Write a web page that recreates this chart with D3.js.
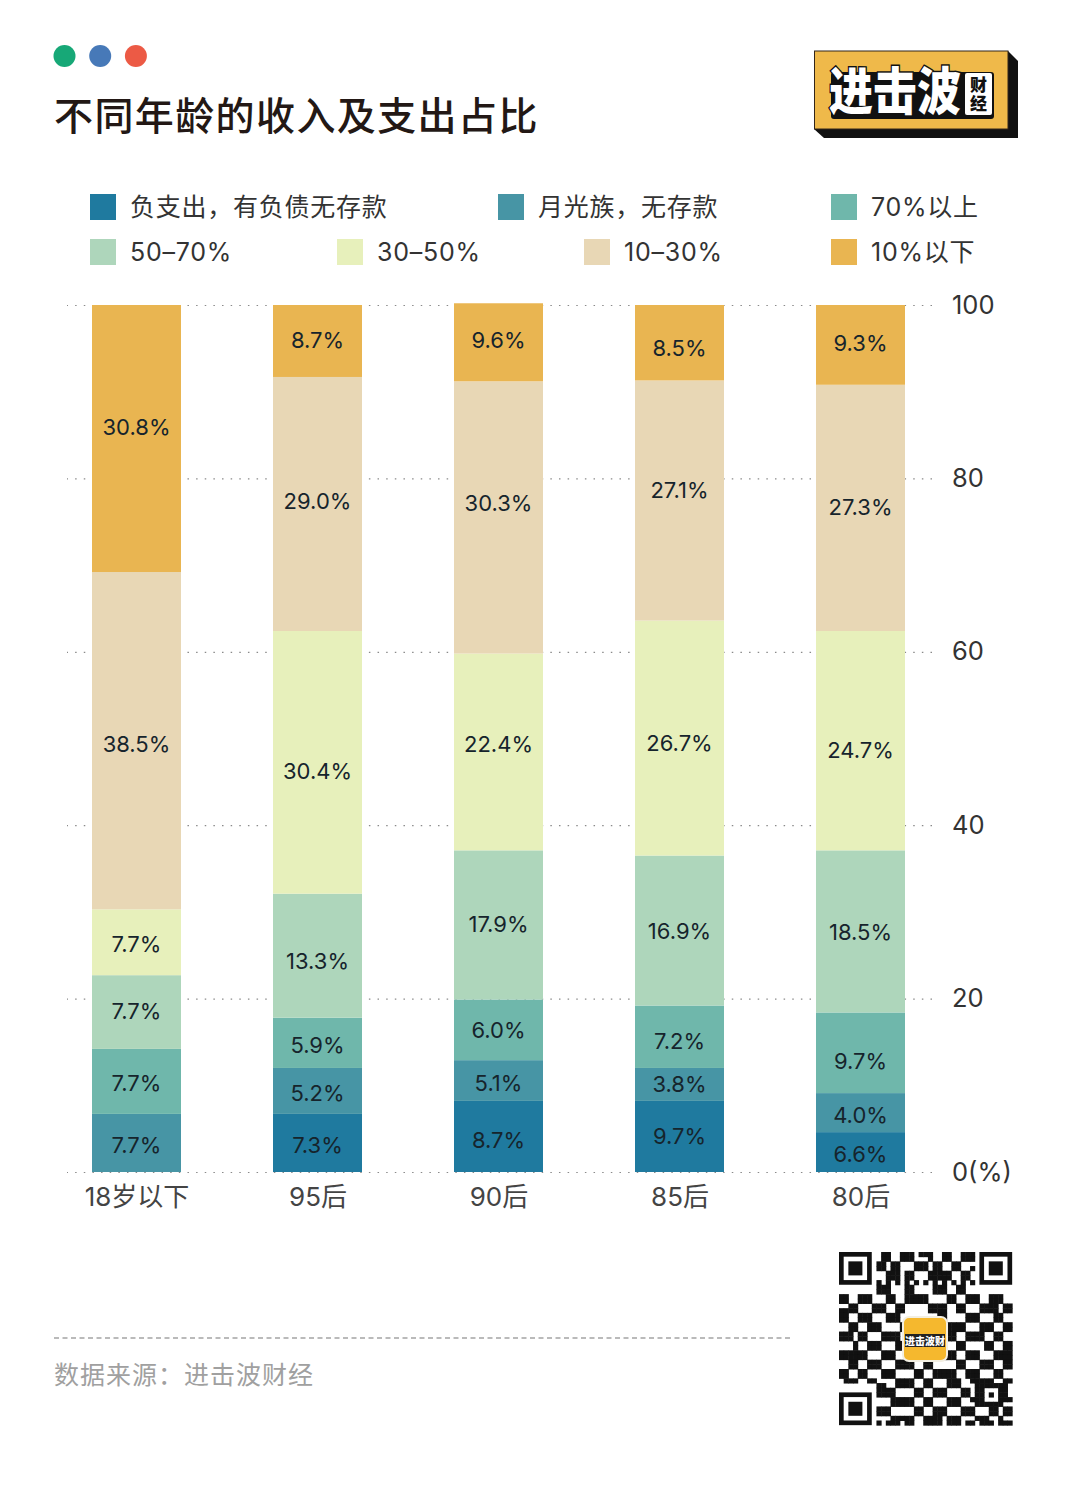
<!DOCTYPE html>
<html>
<head>
<meta charset="utf-8">
<script src="https://cdn.jsdelivr.net/npm/d3@7"></script>
<style>
  html, body { margin: 0; padding: 0; background: #fff; }
  svg { display: block; }
  text { font-family: "Inter", "Noto Sans CJK SC", sans-serif; }
</style>
</head>
<body>
<div id="chart"></div>
<script>
// values
const categories = ["18岁以下", "95后", "90后", "85后", "80后"];
const seriesNames = ["负支出，有负债无存款", "月光族，无存款", "70%以上", "50–70%", "30–50%", "10–30%", "10%以下"];
const yTicks = [0, 20, 40, 60, 80, 100];

const debt      = [0, 6.7, 8.2, 8.2, 4.6];
const moonlight = [6.7, 5.3, 4.7, 3.8, 4.5];
const over70    = [7.5, 5.8, 7.0, 7.2, 9.3];
const from50    = [8.5, 14.3, 17.2, 17.3, 18.7];
const from30    = [7.6, 30.3, 22.7, 27.1, 25.3];
const from10    = [38.9, 29.3, 31.4, 27.7, 28.4];
const under10   = [30.8, 8.3, 9.0, 8.7, 9.2];

// printed labels (they don't always agree with the segment heights)
const debtText      = ["", "7.3%", "8.7%", "9.7%", "6.6%"];
const moonlightText = ["7.7%", "5.2%", "5.1%", "3.8%", "4.0%"];
const over70Text    = ["7.7%", "5.9%", "6.0%", "7.2%", "9.7%"];
const from50Text    = ["7.7%", "13.3%", "17.9%", "16.9%", "18.5%"];
const from30Text    = ["7.7%", "30.4%", "22.4%", "26.7%", "24.7%"];
const from10Text    = ["38.5%", "29.0%", "30.3%", "27.1%", "27.3%"];
const under10Text   = ["30.8%", "8.7%", "9.6%", "8.5%", "9.3%"];

const colors = ["#1f7a9f", "#4795a5", "#6fb7ab", "#aed6bb", "#e7f0bb", "#e8d7b5", "#e9b551"];

const heights = [debt, moonlight, over70, from50, from30, from10, under10];
const texts = [debtText, moonlightText, over70Text, from50Text, from30Text, from10Text, under10Text];

// QR code modules, read by eye (finder corners and centre logo are drawn on top)
const qrRows = [
  "0000000001100111011100110011100000000",
  "0000000001100111000100110011100000000",
  "0000000011011000111011001100000000000",
  "0000000011011000111011001100100000000",
  "0000000000111011000111110011000000000",
  "0000000000111011000111110011000000000",
  "0000000010101010101010101010100000000",
  "0000000011100011000011100110000000000",
  "0000000011100011000011100110000000000",
  "1100111000110011111000011001110011100",
  "1100111000110011111000011001110011100",
  "0011000111001100000111100110001111011",
  "1111000111001100000111100110001111011",
  "1100111000111000000001100001110001100",
  "1100111000111000000001100001110001100",
  "0011001110000110000000011110001110011",
  "0011001110000110000000011110001110011",
  "1110110001111000000000111001111001100",
  "1110110001111000000000111001111001100",
  "0001001110001110000001000110000110011",
  "0001001110001110000001000110000110011",
  "1111110001110000000000111001110001111",
  "1111110001110000000000111001110001111",
  "0011001110001111001100000110001110011",
  "0011001110001111001100000110001110011",
  "1100110001110000110011111001110001100",
  "1100110001110000110011111001110001100",
  "0111001100001111001100011100111110011",
  "0000000011001111001100011100011111110",
  "0000000011110000110011100011011000110",
  "0000000011110000110011100011011010110",
  "0000000000011111001100011100111000111",
  "0000000000011111001100011100011111100",
  "0000000011100000110011100011100011011",
  "0000000011100000110011100011100011011",
  "0000000000011111001111011100011100100",
  "0000000010111011001111011101101110111"
];

const width = 1080, height = 1488;
const svg = d3.select("#chart").append("svg")
  .attr("width", width)
  .attr("height", height)
  .attr("viewBox", `0 0 ${width} ${height}`);

// header
const dots = ["#17a877", "#4779b8", "#ec5a45"];
svg.selectAll(".dot").data(dots).join("circle")
  .attr("class", "dot")
  .attr("cx", (d, i) => 64.5 + i * 35.7)
  .attr("cy", 56)
  .attr("r", 11)
  .attr("fill", d => d);

svg.append("text")
  .attr("x", 54).attr("y", 130)
  .attr("font-size", 39).attr("font-weight", 500)
  .attr("letter-spacing", 1.4)
  .attr("fill", "#231815")
  .text("不同年龄的收入及支出占比");

// legend
const legendX = [90, 498, 831, 90, 337, 584, 831];
const legendY = [207, 207, 207, 252, 252, 252, 252];
const legend = svg.selectAll(".legend").data(seriesNames).join("g")
  .attr("class", "legend")
  .attr("transform", (d, i) => `translate(${legendX[i]},${legendY[i]})`);
legend.append("rect")
  .attr("y", -13).attr("width", 26).attr("height", 26)
  .attr("fill", (d, i) => colors[i]);
legend.append("text")
  .attr("x", 40).attr("dy", "0.36em")
  .attr("font-size", 25).attr("letter-spacing", 0.75)
  .attr("fill", "#333")
  .text(d => d);

// scales
const x = d3.scalePoint().domain(categories).range([136.5, 860.5]);
const y = d3.scaleLinear().domain([0, 100]).range([1172, 305]);
const barWidth = 89;

// y axis + dotted grid, under the bars
const yAxis = d3.axisRight(y)
  .tickValues(yTicks)
  .tickSize(-865)
  .tickPadding(20)
  .tickFormat(d => d === 0 ? "0(%)" : d);
const drawY = svg.append("g")
  .attr("class", "axis y-axis")
  .attr("transform", "translate(932,0)")
  .call(yAxis);
drawY.select(".domain").remove();
drawY.selectAll("line")
  .attr("stroke", "#8a8a8a")
  .attr("stroke-width", 1.2)
  .attr("stroke-dasharray", "1.5 7.14");
drawY.selectAll("text")
  .attr("font-family", null)
  .attr("font-size", 25.5)
  .attr("fill", "#333");

// x axis
const xAxis = d3.axisBottom(x).tickSize(0).tickPadding(16);
const drawX = svg.append("g")
  .attr("class", "axis x-axis")
  .attr("transform", "translate(0,1172)")
  .call(xAxis);
drawX.select(".domain").remove();
drawX.selectAll("text")
  .attr("font-family", null)
  .attr("font-size", 26)
  .attr("fill", "#444");

// stacked bars
const rows = categories.map((c, i) => {
  const row = { category: c };
  seriesNames.forEach((s, k) => { row[s] = heights[k][i]; });
  return row;
});
const stacked = d3.stack().keys(seriesNames)(rows);

// labels were hand-placed in the original, px away from segment centres
const labelNudge = [
  [0, 2, 4, 0, 2],
  [2, 2, 3, 0, 2],
  [2, 2, 0, 4, 8],
  [-1, 5, -1, 1, 1],
  [2, 9, -8, 5, 9],
  [3, -3, -14, -10, -1],
  [-11, -1, -2, 5, -2]
];

const layers = svg.selectAll(".layer").data(stacked).join("g")
  .attr("class", "layer")
  .attr("fill", (d, i) => colors[i]);
layers.selectAll("rect").data(d => d).join("rect")
  .attr("x", d => x(d.data.category) - barWidth / 2)
  .attr("y", d => y(d[1]))
  .attr("width", barWidth)
  .attr("height", d => y(d[0]) - y(d[1]));

layers.each(function (layer, k) {
  d3.select(this).selectAll("text").data(layer).join("text")
    .attr("x", d => x(d.data.category))
    .attr("y", (d, i) => y((d[0] + d[1]) / 2) + labelNudge[k][i])
    .attr("dy", "0.36em")
    .attr("text-anchor", "middle")
    .attr("font-size", 22)
    .attr("fill", "#16242c")
    .text((d, i) => texts[k][i]);
});

// logo, top right
const logo = svg.append("g");
logo.append("path")
  .attr("d", "M1008,51 L1018,61 L1018,138 L824,138 L814,129 Z")
  .attr("fill", "#111");
logo.append("rect")
  .attr("x", 814.5).attr("y", 51)
  .attr("width", 193.5).attr("height", 78)
  .attr("fill", "#efb94a")
  .attr("stroke", "#33261a").attr("stroke-width", 1);
logo.append("rect")
  .attr("x", 831).attr("y", 72)
  .attr("width", 163).attr("height", 47).attr("rx", 3)
  .attr("fill", "#111");
logo.append("text")
  .attr("transform", "translate(829,110) scale(1,1.15)")
  .attr("font-size", 44).attr("font-weight", 900)
  .attr("font-family", "Noto Sans CJK SC")
  .attr("fill", "#fff")
  .attr("stroke", "#111").attr("stroke-width", 2.5)
  .attr("paint-order", "stroke")
  .text("进击波");
logo.append("rect")
  .attr("x", 965).attr("y", 73)
  .attr("width", 27).attr("height", 42).attr("rx", 2)
  .attr("fill", "#fff");
logo.selectAll(".logo-small").data(["财", "经"]).join("text")
  .attr("class", "logo-small")
  .attr("x", 978.5)
  .attr("y", (d, i) => 91 + i * 19)
  .attr("text-anchor", "middle")
  .attr("font-size", 17).attr("font-weight", 900)
  .attr("font-family", "Noto Sans CJK SC")
  .attr("fill", "#111")
  .text(d => d);

// footer
svg.append("line")
  .attr("x1", 54).attr("x2", 790)
  .attr("y1", 1338).attr("y2", 1338)
  .attr("stroke", "#777").attr("stroke-width", 1.2)
  .attr("stroke-dasharray", "5 3.5");
svg.append("text")
  .attr("x", 54).attr("y", 1384)
  .attr("font-size", 25).attr("letter-spacing", 1)
  .attr("fill", "#a0a0a0")
  .text("数据来源：进击波财经");

// QR code
const qrX = 839, qrY = 1252, qrSize = 4.68;
const qr = svg.append("g").attr("transform", `translate(${qrX},${qrY})`);
const cells = [];
qrRows.forEach((row, r) => {
  row.split("").forEach((c, col) => { if (c === "1") cells.push([col, r]); });
});
qr.selectAll(".module").data(cells).join("rect")
  .attr("class", "module")
  .attr("x", d => d[0] * qrSize)
  .attr("y", d => d[1] * qrSize)
  .attr("width", qrSize + 0.5)
  .attr("height", qrSize + 0.5)
  .attr("fill", "#111");
[[0, 0], [30, 0], [0, 30]].forEach(([cx, cy]) => {
  const f = qr.append("g").attr("transform", `translate(${cx * qrSize},${cy * qrSize})`);
  f.append("rect").attr("width", 7 * qrSize).attr("height", 7 * qrSize).attr("fill", "#111");
  f.append("rect").attr("x", qrSize).attr("y", qrSize)
    .attr("width", 5 * qrSize).attr("height", 5 * qrSize).attr("fill", "#fff");
  f.append("rect").attr("x", 2 * qrSize).attr("y", 2 * qrSize)
    .attr("width", 3 * qrSize).attr("height", 3 * qrSize).attr("fill", "#111");
});
svg.append("rect")
  .attr("x", 903).attr("y", 1317).attr("width", 44).attr("height", 44).attr("rx", 6)
  .attr("fill", "#f5b82e").attr("stroke", "#f3efe2").attr("stroke-width", 2);
svg.append("rect")
  .attr("x", 905).attr("y", 1334).attr("width", 40).attr("height", 13)
  .attr("fill", "#222");
svg.append("text")
  .attr("x", 925).attr("y", 1344.5)
  .attr("text-anchor", "middle")
  .attr("font-size", 10).attr("font-weight", 900)
  .attr("font-family", "Noto Sans CJK SC")
  .attr("fill", "#fff")
  .text("进击波财");
</script>
</body>
</html>
